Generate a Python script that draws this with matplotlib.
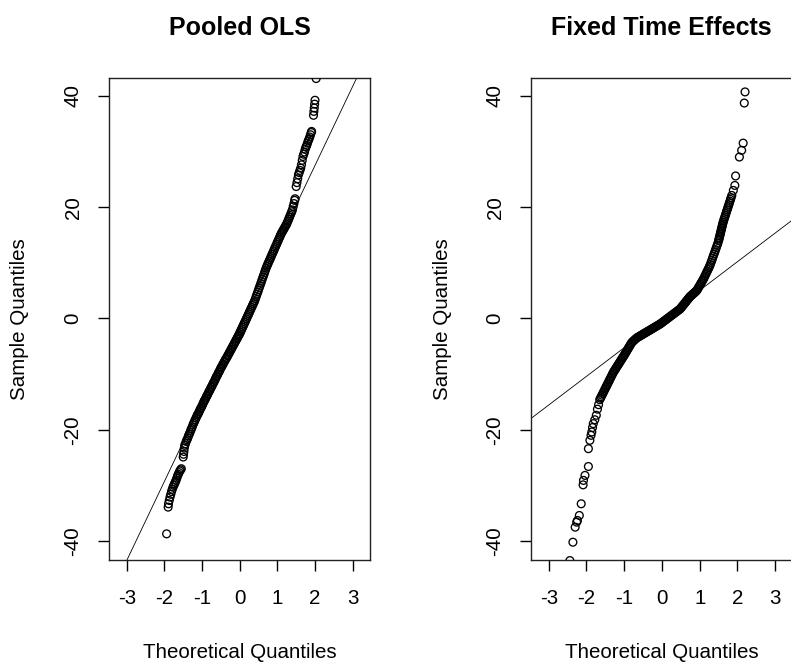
import matplotlib
matplotlib.use("Agg")
import matplotlib.pyplot as plt

plt.rcParams["font.family"] = ["Liberation Sans", "DejaVu Sans"]

# ---- data: (theoretical quantile, sample quantile) ----
pooled_theo = [
    -1.94, -1.90, -1.89, -1.87, -1.85, -1.83, -1.81, -1.79, -1.77, -1.75, -1.73,
    -1.71, -1.69, -1.67, -1.65, -1.63, -1.61, -1.59, -1.57, -1.55,
    -1.50, -1.49, -1.48, -1.47, -1.46,
    -1.44, -1.42, -1.40, -1.38, -1.36, -1.34, -1.32, -1.30, -1.28, -1.26, -1.24, -1.22, -1.20,
    -1.18, -1.16, -1.14, -1.12, -1.10, -1.08, -1.06, -1.04, -1.02, -1.00, -0.98, -0.96, -0.94,
    -0.92, -0.90, -0.88, -0.86, -0.84, -0.82, -0.80, -0.78, -0.76, -0.74, -0.72, -0.70,
    -0.68, -0.66, -0.64, -0.62, -0.60, -0.58, -0.56, -0.54, -0.52, -0.50,
    -0.48, -0.46, -0.44, -0.42, -0.40, -0.38, -0.36, -0.34, -0.32, -0.30, -0.28, -0.26,
    -0.24, -0.22, -0.20, -0.18, -0.16, -0.14, -0.12, -0.10, -0.08, -0.06, -0.04, -0.02, 0.00,
    0.02, 0.04, 0.06, 0.08, 0.10, 0.12, 0.14, 0.16, 0.18, 0.20, 0.22, 0.24, 0.26, 0.28,
    0.30, 0.32, 0.34, 0.36, 0.38, 0.40,
    0.42, 0.44, 0.46, 0.48, 0.50, 0.52, 0.54, 0.56, 0.58, 0.60, 0.62, 0.64, 0.66, 0.68, 0.70,
    0.72, 0.74, 0.76, 0.78, 0.80, 0.82, 0.84, 0.86, 0.88, 0.90, 0.92, 0.94, 0.96, 0.98,
    1.00, 1.02, 1.04, 1.06, 1.08, 1.10,
    1.12, 1.14, 1.16, 1.18, 1.20, 1.22, 1.24,
    1.26, 1.28, 1.30, 1.32, 1.34, 1.36, 1.38, 1.40,
    1.42, 1.44, 1.46, 1.47,
    1.50, 1.52, 1.54, 1.56, 1.58, 1.60, 1.62, 1.64, 1.66, 1.68, 1.70, 1.72, 1.74, 1.76,
    1.78, 1.80, 1.82, 1.84, 1.86, 1.88, 1.90, 1.91,
    1.96, 1.97, 1.98, 1.99, 2.00, 2.03,
]
pooled_sample = [
    -38.7, -33.9, -33.3, -32.7, -32.1, -31.6, -31.1, -30.7, -30.3, -30.0, -29.7,
    -29.4, -29.1, -28.7, -28.3, -28.0, -27.7, -27.4, -27.2, -27.0,
    -24.9, -24.4, -23.9, -23.3, -22.8,
    -22.5, -22.1, -21.8, -21.5, -21.1, -20.8, -20.5, -20.1, -19.8, -19.5, -19.1, -18.8, -18.5,
    -18.2, -17.9, -17.6, -17.3, -17.1, -16.8, -16.5, -16.2, -16.0, -15.7, -15.4, -15.1, -14.8,
    -14.6, -14.3, -14.0, -13.8, -13.5, -13.2, -13.0, -12.7, -12.4, -12.2, -11.9, -11.6,
    -11.4, -11.1, -10.8, -10.5, -10.3, -10.0, -9.7, -9.5, -9.2, -8.9,
    -8.7, -8.4, -8.2, -7.9, -7.7, -7.4, -7.2, -7.0, -6.7, -6.5, -6.2, -6.0,
    -5.7, -5.5, -5.2, -5.0, -4.7, -4.5, -4.2, -4.0, -3.7, -3.5, -3.2, -3.0, -2.75,
    -2.45, -2.16, -1.86, -1.56, -1.26, -0.97, -0.67, -0.37, -0.07, 0.23, 0.52, 0.82, 1.12, 1.42,
    1.71, 2.01, 2.31, 2.61, 2.90, 3.20,
    3.59, 3.97, 4.36, 4.75, 5.14, 5.52, 5.91, 6.30, 6.68, 7.07, 7.46, 7.84, 8.23, 8.62, 9.01,
    9.35, 9.66, 9.97, 10.28, 10.58, 10.89, 11.20, 11.51, 11.82, 12.12, 12.43, 12.74, 13.05, 13.35,
    13.66, 13.97, 14.28, 14.58, 14.89, 15.20,
    15.44, 15.68, 15.92, 16.16, 16.40, 16.64, 16.88,
    17.17, 17.50, 17.83, 18.17, 18.50, 18.83, 19.17, 19.50,
    20.07, 20.64, 21.21, 21.50,
    23.7, 24.4, 25.1, 25.8, 26.2, 26.6, 27.0, 27.6, 28.4, 29.1, 29.5, 29.9, 30.4, 30.8,
    31.1, 31.5, 31.9, 32.2, 32.6, 33.0, 33.4, 33.6,
    36.5, 37.2, 37.8, 38.5, 39.2, 43.1,
]

fixed_theo = [
    -2.44, -2.36, -2.30, -2.26, -2.24, -2.19, -2.14, -2.09, -2.08, -2.04, -1.95,
    -1.95, -1.91, -1.88, -1.86, -1.84, -1.82, -1.78, -1.74, -1.71, -1.68,
    -1.65, -1.63, -1.61, -1.59, -1.57, -1.55, -1.53, -1.51, -1.49, -1.47, -1.45, -1.43,
    -1.41, -1.39, -1.37, -1.35, -1.33, -1.31, -1.29,
    -1.27, -1.25, -1.23, -1.21, -1.19, -1.17, -1.15, -1.13, -1.11, -1.09, -1.07, -1.05, -1.03, -1.01,
    -0.99, -0.97, -0.95, -0.93, -0.91, -0.89, -0.87, -0.85, -0.83, -0.81,
    -0.78, -0.75, -0.72, -0.69,
    -0.66, -0.63, -0.60, -0.57, -0.54, -0.51, -0.48, -0.45, -0.42, -0.39, -0.36, -0.33,
    -0.30, -0.27, -0.24, -0.21, -0.18, -0.15, -0.12, -0.09, -0.06,
    -0.03, 0.00, 0.03, 0.06, 0.09, 0.12, 0.15, 0.18, 0.21, 0.24, 0.27, 0.30, 0.33, 0.36,
    0.39, 0.42, 0.45, 0.48,
    0.50, 0.52, 0.54, 0.56, 0.58, 0.60, 0.62, 0.64, 0.66, 0.68, 0.70, 0.72, 0.74,
    0.76, 0.78, 0.80, 0.82, 0.84, 0.86, 0.88, 0.90, 0.92,
    0.94, 0.96, 0.98, 1.00, 1.02, 1.04, 1.06, 1.08, 1.10,
    1.12, 1.14, 1.16, 1.18, 1.20, 1.22, 1.24, 1.26,
    1.28, 1.30, 1.32, 1.34, 1.36, 1.38, 1.40, 1.42, 1.44, 1.46, 1.48,
    1.50, 1.51, 1.52, 1.53, 1.54, 1.55, 1.56, 1.57, 1.58, 1.59, 1.60, 1.61, 1.62,
    1.635, 1.65, 1.665, 1.68, 1.695, 1.71, 1.725, 1.74, 1.755, 1.77, 1.785, 1.80, 1.815,
    1.83, 1.85,
    1.89, 1.93, 1.95, 2.05, 2.11, 2.15, 2.18, 2.20,
]
fixed_sample = [
    -43.5, -40.2, -37.5, -36.6, -36.3, -35.4, -33.3, -29.9, -29.1, -28.2, -26.6,
    -23.4, -21.9, -21.0, -20.4, -19.6, -18.9, -18.2, -17.4, -16.3, -15.5,
    -14.60, -14.33, -14.06, -13.78, -13.51, -13.24, -12.97, -12.69, -12.42, -12.15, -11.88, -11.61,
    -11.33, -11.06, -10.79, -10.52, -10.24, -9.97, -9.70,
    -9.49, -9.27, -9.06, -8.84, -8.63, -8.42, -8.20, -7.99, -7.77, -7.56, -7.35, -7.13, -6.92, -6.71,
    -6.49, -6.26, -6.03, -5.80, -5.57, -5.34, -5.11, -4.88, -4.65, -4.42,
    -4.18, -4.00, -3.81, -3.62,
    -3.46, -3.34, -3.22, -3.10, -2.98, -2.85, -2.73, -2.61, -2.49, -2.37, -2.25, -2.13,
    -2.01, -1.89, -1.77, -1.64, -1.52, -1.40, -1.28, -1.16, -1.04,
    -0.90, -0.75, -0.60, -0.44, -0.29, -0.13, 0.02, 0.17, 0.33, 0.48, 0.63, 0.78, 0.94, 1.09,
    1.24, 1.40, 1.55, 1.70,
    1.87, 2.04, 2.21, 2.38, 2.55, 2.72, 2.88, 3.05, 3.22, 3.39, 3.56, 3.73, 3.90,
    4.02, 4.14, 4.27, 4.39, 4.51, 4.63, 4.76, 4.88, 5.00,
    5.23, 5.47, 5.70, 5.93, 6.17, 6.40, 6.63, 6.87, 7.10,
    7.38, 7.66, 7.95, 8.23, 8.51, 8.79, 9.08, 9.36,
    9.69, 10.07, 10.45, 10.84, 11.22, 11.60, 11.98, 12.36, 12.75, 13.13, 13.51,
    13.98, 14.25, 14.53, 14.81, 15.08, 15.36, 15.64, 15.92, 16.19, 16.47, 16.75, 17.02, 17.30,
    17.61, 17.93, 18.24, 18.55, 18.87, 19.18, 19.49, 19.80, 20.12, 20.43, 20.74, 21.06, 21.37,
    21.68, 22.10,
    23.0, 23.9, 25.6, 29.0, 30.2, 31.5, 38.7, 40.7,
]
assert len(pooled_theo) == len(pooled_sample)
assert len(fixed_theo) == len(fixed_sample)

# reference lines (qqline), intercept / slope
pooled_line = (-0.9, 14.2)
fixed_line = (-0.1, 5.15)

titles = ["Pooled OLS", "Fixed Time Effects"]
x_ticks = [-3, -2, -1, 0, 1, 2, 3]
y_ticks = [-40, -20, 0, 20, 40]

W, H = 791, 663
fig = plt.figure(figsize=(W / 100, H / 100), dpi=100)

# axes boxes in pixels: (left, top, right, bottom)
boxes = [(109, 78, 370, 560), (531, 78, 792.6, 560)]
panels = [(pooled_theo, pooled_sample, pooled_line), (fixed_theo, fixed_sample, fixed_line)]

FS = 14.8
for (l, t, r, b), (theo, samp, (a, k)), title in zip(boxes, panels, titles):
    ax = fig.add_axes([l / W, 1 - b / H, (r - l) / W, (b - t) / H])
    ax.scatter(theo, samp, s=5.6 ** 2, facecolors="none", edgecolors="black",
               linewidths=0.95, zorder=3)
    ax.axline((0, a), slope=k, color="black", lw=0.6, zorder=2)
    ax.set_xlim(-3.47, 3.46)
    ax.set_ylim(-43.4, 43.2)
    ax.set_xticks(x_ticks)
    ax.set_yticks(y_ticks)
    ax.set_xticklabels([str(v) for v in x_ticks])
    ax.set_yticklabels([str(v) for v in y_ticks])
    ax.tick_params(direction="out", length=8, width=1.0, labelsize=FS, pad=13)
    ax.tick_params(axis="y", pad=11)
    for lab in ax.get_yticklabels():
        lab.set_rotation(90)
        lab.set_va("center")
    for sp in ax.spines.values():
        sp.set_linewidth(1.0)
        sp.set_color("#222222")
    cx = (l + r) / 2
    fig.text(cx / W, 1 - 28 / H, title, ha="center", va="center",
             fontsize=18, fontweight="bold")
    fig.text(cx / W, 1 - 652 / H, "Theoretical Quantiles", ha="center", va="center",
             fontsize=FS)
    fig.text((l - 89) / W, 1 - 319 / H, "Sample Quantiles", ha="center", va="center",
             fontsize=FS, rotation=90)

fig.savefig("out.png", dpi=100, facecolor="white")
